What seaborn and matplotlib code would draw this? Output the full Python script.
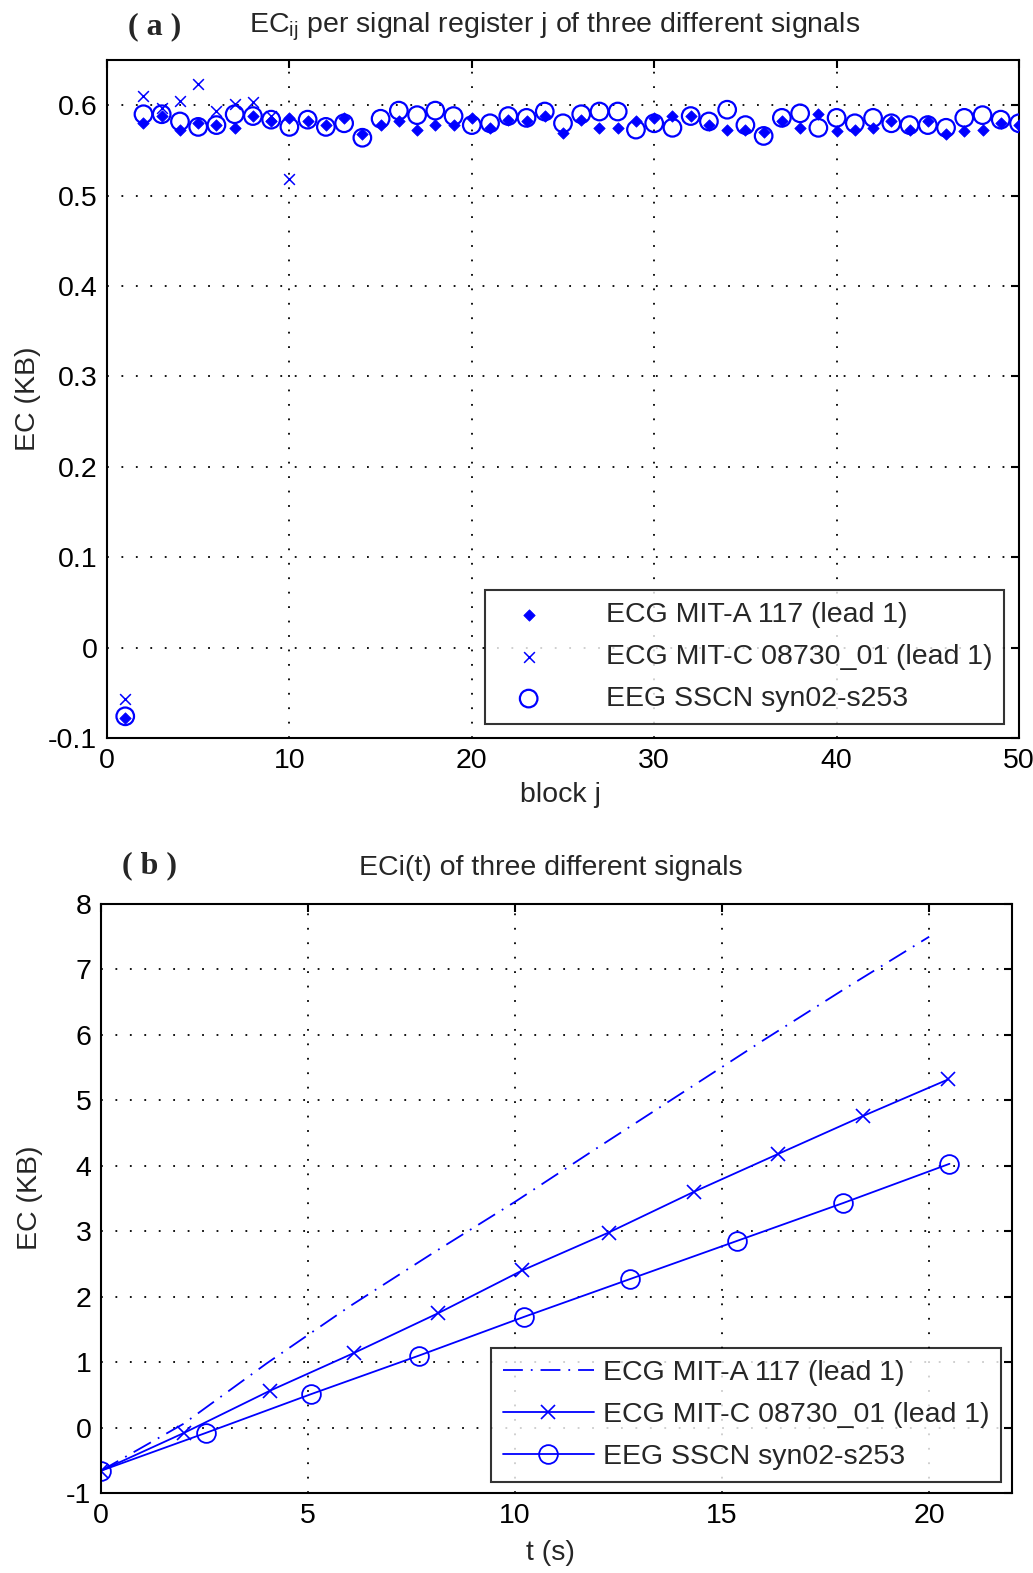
import numpy as np
import pandas as pd
import matplotlib
matplotlib.use("Agg")
import matplotlib.pyplot as plt
import seaborn as sns

# ---------------- data ----------------
blocks = list(range(1, 51))
ecg_a_blocks = [-0.078, 0.580, 0.588, 0.573, 0.580, 0.578, 0.575, 0.588, 0.582, 0.586,
                0.582, 0.578, 0.586, 0.568, 0.578, 0.582, 0.573, 0.578, 0.578, 0.586,
                0.575, 0.584, 0.582, 0.588, 0.569, 0.584, 0.575, 0.575, 0.582, 0.586,
                0.588, 0.588, 0.578, 0.573, 0.573, 0.570, 0.582, 0.575, 0.590, 0.571,
                0.573, 0.575, 0.583, 0.573, 0.583, 0.568, 0.571, 0.573, 0.580, 0.578]
ecg_c_blocks_x = list(range(1, 11))
ecg_c_blocks = [-0.057, 0.610, 0.597, 0.605, 0.624, 0.594, 0.601, 0.604, 0.588, 0.518]
eeg_blocks = [-0.076, 0.590, 0.590, 0.582, 0.576, 0.578, 0.590, 0.588, 0.584, 0.576,
              0.584, 0.576, 0.580, 0.564, 0.585, 0.594, 0.589, 0.594, 0.588, 0.578,
              0.580, 0.588, 0.586, 0.593, 0.580, 0.590, 0.593, 0.593, 0.573, 0.580,
              0.575, 0.588, 0.582, 0.595, 0.578, 0.566, 0.586, 0.591, 0.575, 0.586,
              0.580, 0.586, 0.580, 0.578, 0.578, 0.575, 0.586, 0.589, 0.584, 0.580]

t_ecg_a = [0, 2, 4, 6, 8, 10, 12, 14, 16, 18, 20]
ec_ecg_a = [-0.66, 0.06, 0.98, 1.85, 2.66, 3.45, 4.28, 5.10, 5.92, 6.72, 7.50]
t_ecg_c = [0, 2.01, 4.07, 6.11, 8.15, 10.17, 12.26, 14.31, 16.35, 18.40, 20.46]
ec_ecg_c = [-0.66, -0.08, 0.56, 1.14, 1.75, 2.40, 2.98, 3.60, 4.18, 4.76, 5.32]
t_eeg = [0, 2.54, 5.07, 7.68, 10.21, 12.78, 15.35, 17.92, 20.49]
ec_eeg = [-0.66, -0.08, 0.51, 1.10, 1.69, 2.27, 2.85, 3.43, 4.03]

labels = ["ECG MIT-A 117 (lead 1)", "ECG MIT-C 08730_01 (lead 1)", "EEG SSCN syn02-s253"]

yticks_a = [-0.1, 0, 0.1, 0.2, 0.3, 0.4, 0.5, 0.6]
yticklabels_a = ["-0.1", "0", "0.1", "0.2", "0.3", "0.4", "0.5", "0.6"]
xticks_a = [0, 10, 20, 30, 40, 50]
yticks_b = [-1, 0, 1, 2, 3, 4, 5, 6, 7, 8]
xticks_b = [0, 5, 10, 15, 20]

# ---------------- style ----------------
sns.set_style("white")
plt.rcParams['font.family'] = ['Liberation Sans', 'DejaVu Sans']
plt.rcParams['mathtext.fontset'] = 'custom'
plt.rcParams['mathtext.rm'] = 'Liberation Sans'
plt.rcParams['mathtext.it'] = 'Liberation Sans'
plt.rcParams['axes.unicode_minus'] = False
FS = 20.5
BLUE = '#0000ff'
W, H = 1033, 1573

fig = plt.figure(figsize=(W / 100, H / 100), dpi=100)
fig.patch.set_facecolor('white')

def px_axes(l, t, r, b):
    return fig.add_axes([l / W, 1 - b / H, (r - l) / W, (b - t) / H])

ax_a = px_axes(107, 60, 1019, 738)
ax_b = px_axes(101, 904, 1012, 1493)

def style_axes(ax):
    for s in ax.spines.values():
        s.set_visible(True)
        s.set_color('black')
        s.set_linewidth(1.5)
    ax.tick_params(direction='in', length=6, width=1.5, top=True, right=True,
                   labelsize=FS, pad=7, colors='black')
    ax.grid(True, color='black', linestyle=(0, (1, 7)), linewidth=1.3)
    ax.set_axisbelow(True)
    ax.set_xlabel('')
    ax.set_ylabel('')

# ---------------- panel (a) ----------------
df_a1 = pd.DataFrame({'j': blocks, 'ec': ecg_a_blocks})
df_a2 = pd.DataFrame({'j': ecg_c_blocks_x, 'ec': ecg_c_blocks})
df_a3 = pd.DataFrame({'j': blocks, 'ec': eeg_blocks})

sns.scatterplot(data=df_a1, x='j', y='ec', ax=ax_a, marker='D', s=34, color=BLUE,
                edgecolor=BLUE, linewidth=0.5, label=labels[0], zorder=3)
sns.scatterplot(data=df_a2, x='j', y='ec', ax=ax_a, marker='x', s=60, color=BLUE,
                linewidth=1.1, label=labels[1], zorder=3)
sns.scatterplot(data=df_a3, x='j', y='ec', ax=ax_a, marker='o', s=160, color=BLUE,
                linewidth=1.6, label=labels[2], zorder=3)
ax_a.collections[-1].set_facecolor('none')
ax_a.collections[-1].set_edgecolor(BLUE)

ax_a.set_xlim(0, 50)
ax_a.set_ylim(-0.1, 0.65)
ax_a.set_xticks(xticks_a)
ax_a.set_yticks(yticks_a)
ax_a.set_yticklabels(yticklabels_a)
style_axes(ax_a)

leg_a = ax_a.legend(loc='lower right', bbox_to_anchor=((1004 - 107) / 912, (738 - 724) / 678),
                    borderaxespad=0, fontsize=FS, frameon=True, fancybox=False,
                    handletextpad=1.6, handlelength=2.2, borderpad=0.42,
                    labelspacing=0.56, markerscale=1.0)
leg_a.get_frame().set_edgecolor('black')
leg_a.get_frame().set_linewidth(1.5)
leg_a.legend_handles[2].set_facecolor('none')
leg_a.legend_handles[2].set_edgecolor(BLUE)

# ---------------- panel (b) ----------------
df_b1 = pd.DataFrame({'t': t_ecg_a, 'ec': ec_ecg_a})
df_b2 = pd.DataFrame({'t': t_ecg_c, 'ec': ec_ecg_c})
df_b3 = pd.DataFrame({'t': t_eeg, 'ec': ec_eeg})

sns.lineplot(data=df_b1, x='t', y='ec', ax=ax_b, color=BLUE, linewidth=1.3,
             linestyle=(0, (11, 4.4, 1, 4.4)), label=labels[0])
sns.lineplot(data=df_b2, x='t', y='ec', ax=ax_b, color=BLUE, linewidth=1.3,
             marker='x', markersize=9.5, markeredgecolor=BLUE, markeredgewidth=1.2,
             label=labels[1])
sns.lineplot(data=df_b3, x='t', y='ec', ax=ax_b, color=BLUE, linewidth=1.3,
             marker='o', markersize=13.5, markerfacecolor='none', markeredgecolor=BLUE,
             markeredgewidth=1.3, label=labels[2])

ax_b.set_xlim(0, 22)
ax_b.set_ylim(-1, 8)
ax_b.set_xticks(xticks_b)
ax_b.set_yticks(yticks_b)
style_axes(ax_b)

leg_b = ax_b.legend(loc='lower right', bbox_to_anchor=((1001 - 101) / 911, (1493 - 1482) / 589),
                    borderaxespad=0, fontsize=FS, frameon=True, fancybox=False,
                    handletextpad=0.3, handlelength=3.2, borderpad=0.42,
                    labelspacing=0.56)
leg_b.get_frame().set_edgecolor('black')
leg_b.get_frame().set_linewidth(1.5)

# ---------------- text ----------------
def ftext(x, y, s, **kw):
    fig.text(x / W, 1 - y / H, s, ha='center', va='center', **kw)

ftext(155, 27, "( a )", fontsize=23, family=['Liberation Serif'], fontweight='bold')
ftext(555, 27, r"EC$_{\mathrm{ij}}$ per signal register j of three different signals", fontsize=FS)
ftext(150, 866, "( b )", fontsize=23, family=['Liberation Serif'], fontweight='bold')
ftext(551, 868, "ECi(t) of three different signals", fontsize=FS)

ftext(28, 399, "EC (KB)", fontsize=FS, rotation=90)
ftext(30, 1198, "EC (KB)", fontsize=FS, rotation=90)
ftext(560, 795, "block j", fontsize=FS)
ftext(550, 1553, "t (s)", fontsize=FS)

fig.savefig("out.png", dpi=100)
